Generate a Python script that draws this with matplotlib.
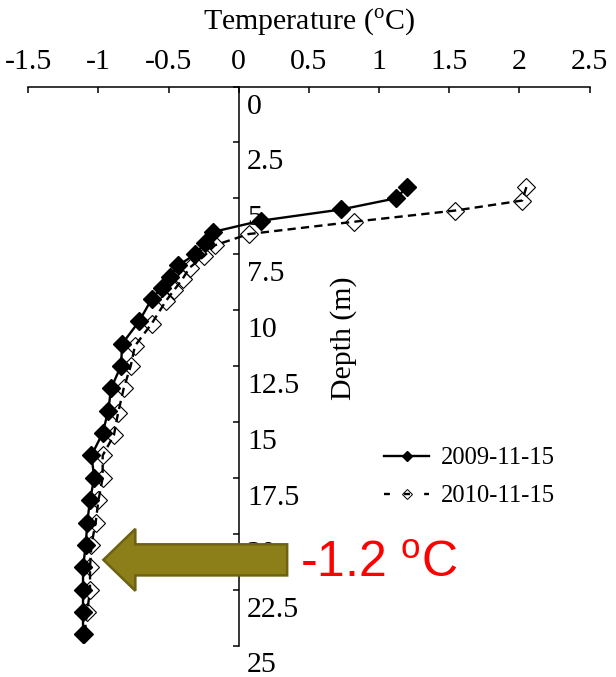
import matplotlib
matplotlib.use("Agg")
import matplotlib.pyplot as plt
import matplotlib.transforms as mtransforms
from matplotlib.patches import FancyArrow
from matplotlib.lines import Line2D
import numpy as np

# 地温プロファイル (深さ m, 温度 °C)
depth_2009 = [4.5, 5.0, 5.5, 6.0, 6.5, 7.0, 7.5, 8.0, 8.5, 9.0, 9.5, 10.5, 11.5,
              12.5, 13.5, 14.5, 15.5, 16.5, 17.5, 18.5, 19.5, 20.5, 21.5, 22.5, 23.5, 24.5]
temp_2009 = [1.20, 1.12, 0.73, 0.16, -0.18, -0.24, -0.31, -0.43, -0.49, -0.55, -0.62, -0.71, -0.83,
             -0.84, -0.91, -0.93, -0.97, -1.05, -1.03, -1.06, -1.08, -1.09, -1.11, -1.11, -1.11, -1.11]

depth_2010 = [4.5, 5.1, 5.55, 6.05, 6.6, 7.1, 7.6, 8.1, 8.6, 9.1, 9.6, 10.6, 11.6,
              12.5, 13.5, 14.6, 15.6, 16.5, 17.5, 18.5, 19.5, 20.5, 21.5, 22.5, 23.5, 24.5]
temp_2010 = [2.05, 2.02, 1.54, 0.82, 0.07, -0.17, -0.25, -0.35, -0.40, -0.46, -0.52, -0.62, -0.74,
             -0.77, -0.82, -0.86, -0.89, -0.97, -0.97, -1.00, -1.02, -1.05, -1.06, -1.06, -1.08, -1.10]

labels = ["2009-11-15", "2010-11-15"]
xticks = np.arange(-1.5, 2.51, 0.5)
yticks = np.arange(0, 25.1, 2.5)
min_temp = -1.2

plt.rcParams['font.family'] = ['Liberation Serif', 'DejaVu Serif']
plt.rcParams['mathtext.fontset'] = 'custom'
plt.rcParams['mathtext.rm'] = 'Liberation Serif'
plt.rcParams['mathtext.sf'] = 'Liberation Sans'

W, H = 616, 677
fig = plt.figure(figsize=(W / 100, H / 100), dpi=100)
ax = fig.add_axes([28.3 / W, 1 - 645.5 / H, (589.5 - 28.3) / W, (645.5 - 86.5) / H])

# 破線 (2010) を先に、実線 (2009) を上に描く
ax.plot(temp_2010, depth_2010, color='black', lw=1.7, ls=(0, (3.5, 2.2)),
        marker='D', ms=8.8, mfc='none', mec='black', mew=0.8)
ax.plot(temp_2009, depth_2009, color='black', lw=1.7,
        marker='D', ms=8.8, mfc='black', mec='black')

ax.set_xlim(-1.5, 2.5)
ax.set_ylim(25, 0)

# 軸の設定: 温度軸は上, 深さ軸は 0 °C の位置
for s in ['left', 'bottom']:
    ax.spines[s].set_visible(False)
ax.spines['top'].set_linewidth(1.1)
ax.spines['right'].set_linewidth(1.1)
ax.spines['right'].set_position(('data', 0))

ax.xaxis.tick_top()
ax.set_xticks(xticks)
ax.set_xticklabels(['%g' % v for v in xticks])
ax.tick_params(axis='x', direction='in', length=4, width=1.1, labelsize=21.5, pad=8)

ax.yaxis.tick_right()
ax.set_yticks(yticks)
ax.set_yticklabels(['%g' % v for v in yticks])
ax.tick_params(axis='y', direction='in', length=4, width=1.1, labelsize=21.5, pad=6)
offset = mtransforms.ScaledTranslation(0, -0.17, fig.dpi_scale_trans)
for lab in ax.get_yticklabels():
    lab.set_transform(lab.get_transform() + offset)

ax.xaxis.set_label_position('top')
ax.set_xlabel(r'Temperature ($^{\mathrm{o}}$C)', fontsize=21.5, labelpad=14)
ax.text(0.75, 11.25, 'Depth (m)', rotation=90, fontsize=21.5, ha='center', va='center')

handles = [
    Line2D([], [], color='black', lw=1.7, marker='D', ms=5, mfc='black'),
    Line2D([], [], color='black', lw=1.7, ls=(0, (2.5, 6)), marker='D', ms=5,
           mfc='none', mew=0.7),
]
ax.legend(handles, labels, loc='upper left', bbox_to_anchor=(384 / W, 1 - 447 / H),
          bbox_transform=fig.transFigure, frameon=False, fontsize=17.7,
          handlelength=1.85, handletextpad=0.45, labelspacing=0.65,
          borderpad=0, borderaxespad=0)

# 最低温度を示す矢印
arrow = FancyArrow(0.345, 21.17, -1.31, 0, width=1.39, head_width=2.77, head_length=0.228,
                   length_includes_head=True, facecolor='#8C7F1A', edgecolor='#6E6212',
                   lw=1.8, zorder=5)
ax.add_patch(arrow)
ax.text(0.44, 21.35, r'%.1f $^{\mathsf{o}}$C' % min_temp, color='red', fontsize=36,
        family='Liberation Sans', ha='left', va='center', zorder=6)

fig.savefig('out.png', dpi=100)
